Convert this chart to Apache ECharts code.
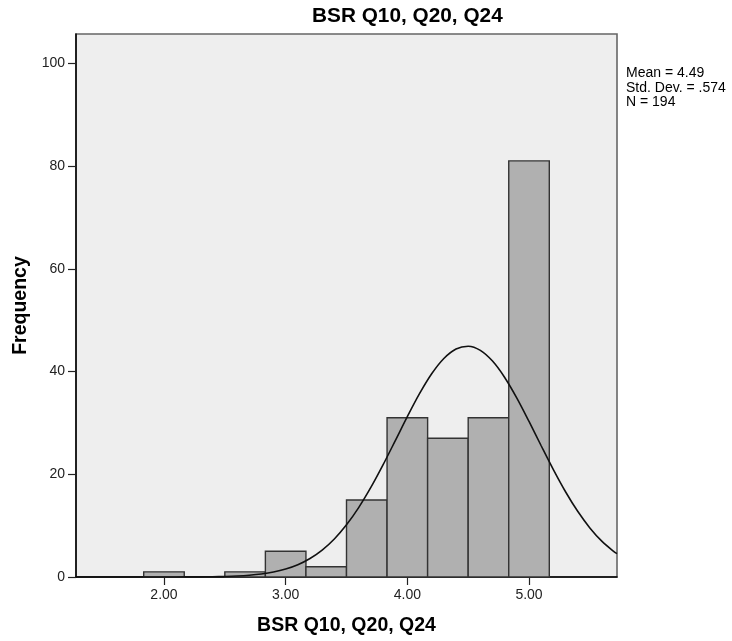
<!DOCTYPE html>
<html><head><meta charset="utf-8">
<script src="https://cdn.jsdelivr.net/npm/echarts@6/dist/echarts.min.js"></script>
<style>html,body{margin:0;padding:0;background:#fff}#c{width:732px;height:641px}</style>
</head><body><div id="c"></div>
<script>
const titleText = 'BSR Q10, Q20, Q24';
const xName = 'BSR Q10, Q20, Q24';
const yName = 'Frequency';
const binCenters = [2.0, 2.3333, 2.6667, 3.0, 3.3333, 3.6667, 4.0, 4.3333, 4.6667, 5.0];
const binWidth = 0.3333;
const frequencies = [1, 0, 1, 5, 2, 15, 31, 27, 31, 81];
const curveX = [1.277, 1.6, 2.0, 2.2, 2.3, 2.4, 2.5, 2.6, 2.7, 2.8, 2.9, 3.0, 3.1, 3.2, 3.3, 3.4, 3.5, 3.6, 3.7, 3.8, 3.9, 4.0, 4.1, 4.2, 4.3, 4.4, 4.5, 4.6, 4.7, 4.8, 4.9, 5.0, 5.1, 5.2, 5.3, 5.4, 5.5, 5.6, 5.7, 5.723];
const curveY = [0, 0, 0.004, 0.016, 0.031, 0.059, 0.11, 0.2, 0.35, 0.59, 0.97, 1.55, 2.39, 3.6, 5.24, 7.41, 10.16, 13.51, 17.43, 21.82, 26.5, 31.22, 35.68, 39.56, 42.54, 44.39, 44.93, 44.12, 42.03, 38.84, 34.82, 30.28, 25.55, 20.91, 16.6, 12.79, 9.56, 6.93, 4.9, 4.55];
const xTickValues = [2, 3, 4, 5];
const statsLines = ['Mean = 4.49', 'Std. Dev. = .574', 'N = 194'];

const FONT = "'Liberation Sans', Arial, sans-serif";
const chart = echarts.init(document.getElementById('c'), null, {renderer: 'canvas'});
chart.setOption({
  animation: false,
  backgroundColor: '#ffffff',
  title: {
    text: titleText, left: 307, top: 1,
    textStyle: {fontFamily: FONT, fontSize: 20.8, fontWeight: 'bold', color: '#000'}
  },
  grid: {
    left: 76, top: 34, width: 541, height: 543,
    show: true, backgroundColor: '#eeeeee', borderColor: '#666666', borderWidth: 1.6
  },
  xAxis: {
    type: 'value', min: 1.277, max: 5.723,
    name: xName, nameLocation: 'middle', nameGap: 39,
    nameTextStyle: {fontFamily: FONT, fontSize: 19.5, fontWeight: 'bold', color: '#000'},
    axisLine: {show: true, lineStyle: {color: '#000', width: 1.5}},
    axisTick: {show: true, length: 8, customValues: xTickValues, lineStyle: {color: '#222', width: 1.2}},
    axisLabel: {customValues: xTickValues, margin: 11, fontFamily: FONT, fontSize: 14, color: '#222',
      formatter: v => v.toFixed(2)},
    splitLine: {show: false}
  },
  yAxis: {
    type: 'value', min: 0, max: 105.7, interval: 20,
    name: yName, nameLocation: 'middle', nameRotate: 90, nameGap: 44,
    nameTextStyle: {fontFamily: FONT, fontSize: 19.5, fontWeight: 'bold', color: '#000'},
    axisLine: {show: true, lineStyle: {color: '#000', width: 1.5}},
    axisTick: {show: true, length: 8, lineStyle: {color: '#222', width: 1.2}},
    axisLabel: {margin: 11, fontFamily: FONT, fontSize: 14, color: '#222',
      showMaxLabel: false},
    splitLine: {show: false}
  },
  graphic: [{
    type: 'text', left: 626, top: 66,
    style: {text: statsLines.join('\n'), font: '14px ' + FONT, lineHeight: 14.5, fill: '#000'}
  }],
  series: [{
    type: 'custom', z: 2,
    data: binCenters.map((c, i) => [c, frequencies[i]]).filter(d => d[1] > 0),
    renderItem: function (params, api) {
      const c = api.value(0), h = api.value(1);
      const p0 = api.coord([c - binWidth / 2, h]);
      const p1 = api.coord([c + binWidth / 2, 0]);
      return {
        type: 'rect',
        shape: {x: p0[0], y: p0[1], width: p1[0] - p0[0], height: p1[1] - p0[1]},
        style: {fill: '#b0b0b0', stroke: '#333333', lineWidth: 1.4}
      };
    }
  }, {
    type: 'line', z: 3, smooth: 0.3, showSymbol: false, symbol: 'none',
    data: curveX.map((x, i) => [x, curveY[i]]),
    lineStyle: {color: '#111', width: 1.6}
  }]
});
</script></body></html>
